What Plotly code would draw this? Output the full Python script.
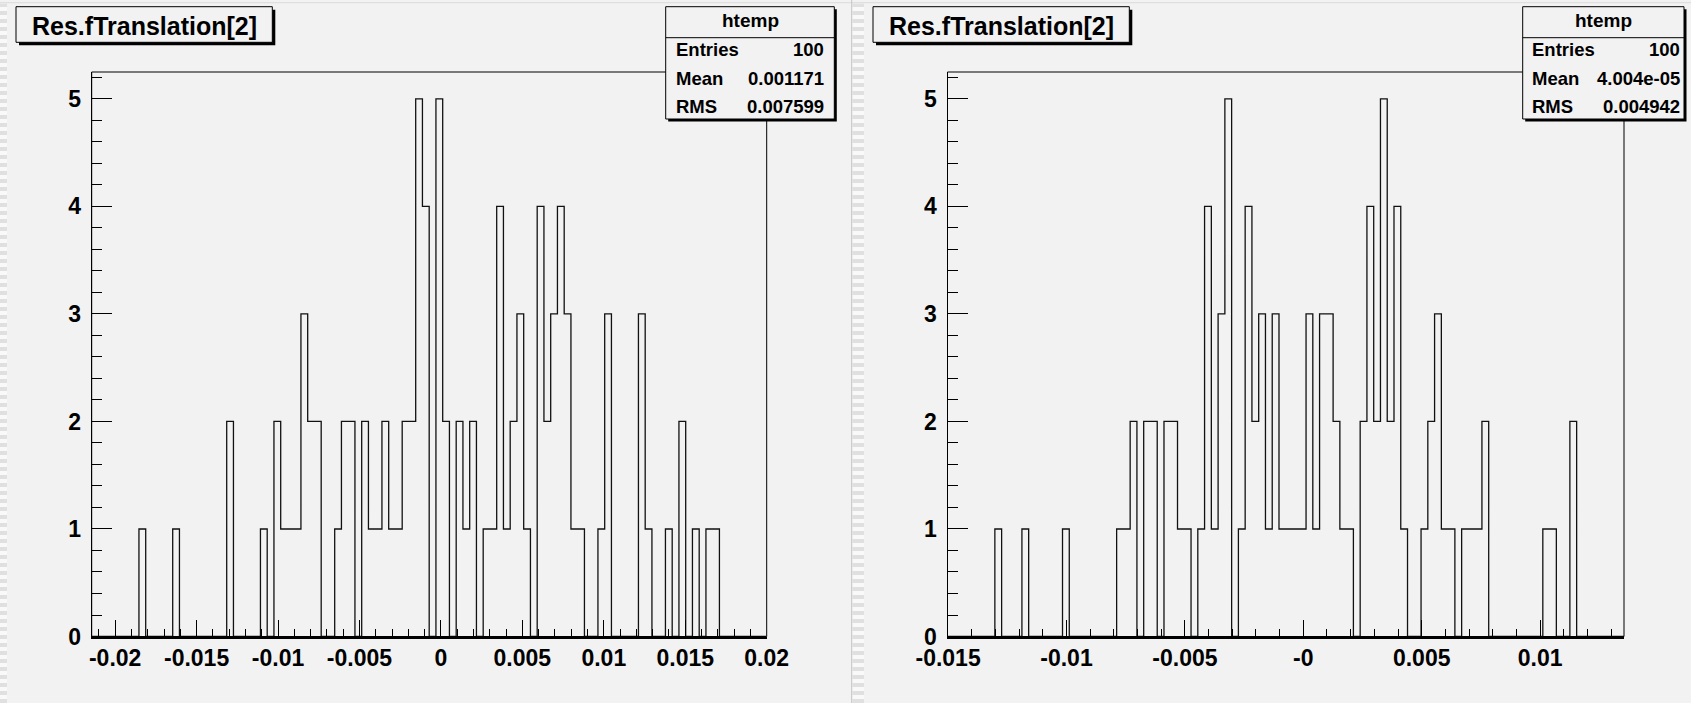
import numpy as np
import plotly.graph_objects as go

# ---------------- data ----------------
title_text = "Res.fTranslation[2]"
stats_name = "htemp"

left_xmin, left_xmax = -0.02144, 0.02
left_counts = [
    0, 0, 0, 0, 0, 0, 0, 1, 0, 0,
    0, 0, 1, 0, 0, 0, 0, 0, 0, 0,
    2, 0, 0, 0, 0, 1, 0, 2, 1, 1,
    1, 3, 2, 2, 0, 0, 1, 2, 2, 0,
    2, 1, 1, 2, 1, 1, 2, 2, 5, 4,
    0, 5, 2, 0, 2, 1, 2, 0, 1, 1,
    4, 1, 2, 3, 1, 0, 4, 2, 3, 4,
    3, 1, 1, 0, 0, 1, 3, 0, 0, 0,
    0, 3, 1, 0, 0, 1, 0, 2, 0, 1,
    0, 1, 1, 0, 0, 0, 0, 0, 0, 0,
]
left_tickvals = [-0.02, -0.015, -0.01, -0.005, 0, 0.005, 0.01, 0.015, 0.02]
left_ticktext = ["-0.02", "-0.015", "-0.01", "-0.005", "0", "0.005", "0.01", "0.015", "0.02"]
left_stats = [("Entries", "100"), ("Mean", "0.001171"), ("RMS", "0.007599")]

right_xmin, right_xmax = -0.015025, 0.013543
right_counts = [
    0, 0, 0, 0, 0, 0, 0, 1, 0, 0,
    0, 1, 0, 0, 0, 0, 0, 1, 0, 0,
    0, 0, 0, 0, 0, 1, 1, 2, 0, 2,
    2, 0, 2, 2, 1, 1, 0, 1, 4, 1,
    3, 5, 0, 1, 4, 2, 3, 1, 3, 1,
    1, 1, 1, 3, 1, 3, 3, 2, 1, 1,
    0, 2, 4, 2, 5, 2, 4, 1, 0, 0,
    1, 2, 3, 1, 1, 0, 1, 1, 1, 2,
    0, 0, 0, 0, 0, 0, 0, 0, 1, 1,
    0, 0, 2, 0, 0, 0, 0, 0, 0, 0,
]
right_tickvals = [-0.015, -0.01, -0.005, 0, 0.005, 0.01]
right_ticktext = ["-0.015", "-0.01", "-0.005", "-0", "0.005", "0.01"]
right_stats = [("Entries", "100"), ("Mean", "4.004e-05"), ("RMS", "0.004942")]

y_tickvals = [0, 1, 2, 3, 4, 5]
y_max = 5.25

# ---------------- style ----------------
W, H = 1691, 703
BG = "#f2f2f2"
FONT = "Liberation Sans, Arial, Helvetica, sans-serif"


def px(x):
    return x / W


def py(y):
    return 1 - y / H


def step_xy(counts, xmin, xmax):
    c = np.asarray(counts, dtype=float)
    edges = np.linspace(xmin, xmax, len(c) + 1)
    xs = np.concatenate([[edges[0]], edges[:-1], [edges[-1], edges[-1]]])
    ys = np.concatenate([[0.0], c, [c[-1], 0.0]])
    return xs, ys


fig = go.Figure()

xl, yl = step_xy(left_counts, left_xmin, left_xmax)
xr, yr = step_xy(right_counts, right_xmin, right_xmax)
fig.add_trace(go.Scatter(x=xl, y=yl, mode="lines", line=dict(shape="hv", color="#111111", width=1.3),
                         xaxis="x", yaxis="y", showlegend=False, hoverinfo="skip"))
fig.add_trace(go.Scatter(x=xr, y=yr, mode="lines", line=dict(shape="hv", color="#111111", width=1.3),
                         xaxis="x2", yaxis="y2", showlegend=False, hoverinfo="skip"))

ydom = [py(636.5), py(72)]
left_dom = [px(91.7), px(766.7)]
right_dom = [px(947.5), px(1624)]

tickfont = dict(family=FONT, size=23, color="black", weight="bold")


def xaxis_cfg(dom, rng, tv, tt, anchor):
    return dict(domain=dom, range=list(rng), anchor=anchor, tickmode="array", tickvals=tv, ticktext=tt,
                ticks="inside", ticklen=17, tickwidth=1, tickcolor="black",
                minor=dict(tickmode="linear", tick0=0, dtick=0.001, ticks="inside", ticklen=8,
                           tickwidth=1, tickcolor="black", showgrid=False),
                showgrid=False, zeroline=False, showline=True, linecolor="black", linewidth=2,
                tickfont=tickfont, ticklabelstandoff=0, automargin=False, fixedrange=True)


def yaxis_cfg(anchor):
    return dict(domain=ydom, range=[0, y_max], anchor=anchor, tickmode="array", tickvals=y_tickvals,
                ticktext=[str(v) for v in y_tickvals],
                ticks="inside", ticklen=20, tickwidth=1, tickcolor="black",
                minor=dict(tickmode="linear", tick0=0, dtick=0.2, ticks="inside", ticklen=10,
                           tickwidth=1, tickcolor="black", showgrid=False),
                showgrid=False, zeroline=False, showline=True, linecolor="black", linewidth=1,
                tickfont=tickfont, ticklabelstandoff=5, automargin=False, fixedrange=True)


shapes = []
annotations = []

# canvas decorations (pad edges)
shapes.append(dict(type="line", xref="paper", yref="paper", x0=0, x1=1, y0=py(2.7), y1=py(2.7),
                   line=dict(color="#dadada", width=1), layer="below"))
for x0, x1 in [(0, 7), (852.5, 864)]:
    shapes.append(dict(type="rect", xref="paper", yref="paper", x0=px(x0), x1=px(x1), y0=0, y1=py(3.5),
                       fillcolor="#f9f9f9", line=dict(width=0), layer="below"))
    shapes.append(dict(type="line", xref="paper", yref="paper", x0=px((x0 + x1) / 2), x1=px((x0 + x1) / 2),
                       y0=0, y1=py(3.5), line=dict(color="#e0e0e0", width=x1 - x0, dash="4px,4px"),
                       layer="below"))
shapes.append(dict(type="line", xref="paper", yref="paper", x0=px(851.7), x1=px(851.7), y0=0, y1=1,
                   line=dict(color="#c4c4c4", width=1), layer="below"))

# frames
for xr_, yr_ in [("x domain", "y domain"), ("x2 domain", "y2 domain")]:
    shapes.append(dict(type="rect", xref=xr_, yref=yr_, x0=0, x1=1, y0=0, y1=1,
                       line=dict(color="black", width=1), fillcolor="rgba(0,0,0,0)"))


def box(x0, y0, x1, y1, sh=2.5):
    shapes.append(dict(type="rect", xref="paper", yref="paper", x0=px(x0 + sh), x1=px(x1 + sh),
                       y0=py(y1 + sh), y1=py(y0 + sh), fillcolor="black", line=dict(width=0)))
    shapes.append(dict(type="rect", xref="paper", yref="paper", x0=px(x0), x1=px(x1),
                       y0=py(y1), y1=py(y0), fillcolor=BG, line=dict(color="black", width=1)))


def text(x, y, s, size, anchor="center"):
    annotations.append(dict(x=px(x), y=py(y), xref="paper", yref="paper", text=s, showarrow=False,
                            xanchor=anchor, yanchor="middle",
                            font=dict(family=FONT, size=size, color="black", weight="bold")))


# titles
for tx0, tx1 in [(16, 272.3), (873, 1129.3)]:
    box(tx0, 6.7, tx1, 42.3, sh=3)
    text((tx0 + tx1) / 2, 26, title_text, 25)

# stats boxes
for (bx0, bx1, lx, vx, stats) in [(665.7, 834.3, 674, 826, left_stats),
                                   (1522.7, 1684, 1530, 1682, right_stats)]:
    box(bx0, 6.7, bx1, 119)
    shapes.append(dict(type="line", xref="paper", yref="paper", x0=px(bx0), x1=px(bx1),
                       y0=py(37.7), y1=py(37.7), line=dict(color="black", width=1)))
    text((bx0 + bx1) / 2, 21, stats_name, 19)
    for i, (k, v) in enumerate(stats):
        yy = 50 + i * 28.3
        text(lx, yy, k, 18.5, "left")
        text(vx, yy, v, 18.5, "right")

fig.update_layout(
    width=W, height=H, margin=dict(l=0, r=0, t=0, b=0, autoexpand=False),
    paper_bgcolor=BG, plot_bgcolor=BG,
    xaxis=xaxis_cfg(left_dom, (left_xmin, left_xmax + 1e-6), left_tickvals, left_ticktext, "y"),
    yaxis=yaxis_cfg("x"),
    xaxis2=xaxis_cfg(right_dom, (right_xmin, right_xmax), right_tickvals, right_ticktext, "y2"),
    yaxis2=yaxis_cfg("x2"),
    shapes=shapes, annotations=annotations, showlegend=False,
)

fig.write_html("out.html")
